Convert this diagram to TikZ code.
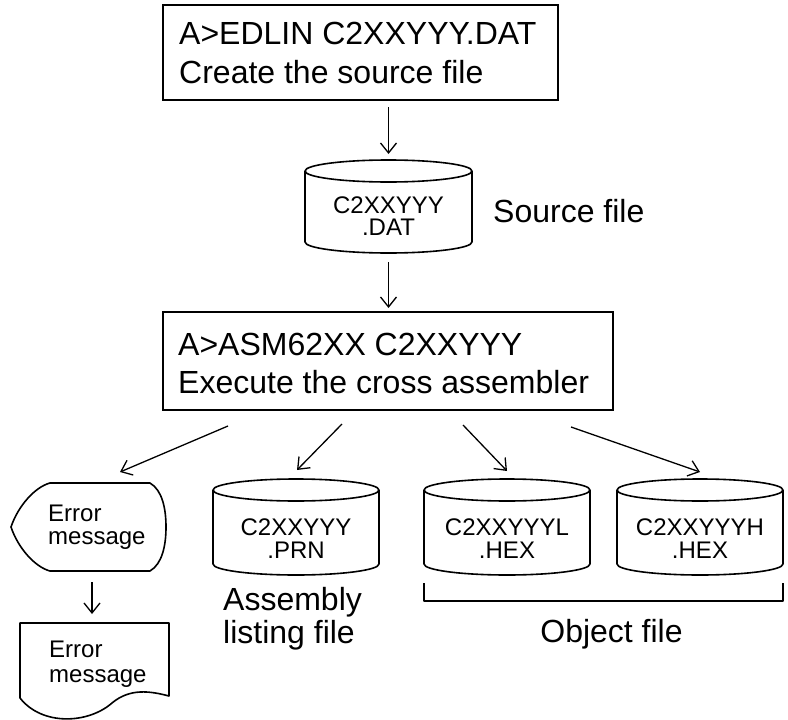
\documentclass[tikz,border=0pt]{standalone}
\usepackage{fontspec}
\setmainfont{Liberation Sans}
\usetikzlibrary{arrows.meta}

% disk drawn as a cylinder: centre x, top-ellipse y, bottom-ellipse y, half width
\newcommand{\drumshape}[4]{%
  \draw[outline] (#1-#4,#2) -- (#1-#4,#3)
    arc[start angle=180,end angle=0,x radius=#4,y radius=11] -- (#1+#4,#2);
  \draw[outline] (#1,#2) ellipse[x radius=#4,y radius=11];}

\begin{document}
\begin{tikzpicture}[x=1pt,y=-1pt,
  outline/.style={line width=1.6pt,line join=round},
  box/.style={draw,line width=1.6pt,rectangle,inner sep=0pt},
  big/.style={inner sep=0pt,font=\fontsize{32}{38}\selectfont},
  small/.style={inner sep=0pt,font=\fontsize{24}{24}\selectfont},
  flow/.style={line width=1.3pt,-{Straight Barb[length=10pt,width=16pt]}}]

\useasboundingbox (0,0) rectangle (788,720);

% editor step
\node[box,minimum width=395,minimum height=95] (edlin) at (360.5,52.5) {};
\node[big,anchor=base west] (edlinA) at (179,45) {A>EDLIN C2XXYYY.DAT};
\node[big,anchor=base west] (edlinB) at (179,83) {Create the source file};

% source file
\drumshape{388.5}{171}{242}{83.5}
\node[small,anchor=base] (datA) at (388.5,213) {C2XXYYY};
\node[small,anchor=base] (datB) at (388.5,235) {.DAT};
\node[big,anchor=base west] (srclbl) at (493,222) {Source file};
\coordinate (dattop) at (388.5,154);
\coordinate (datbot) at (388.5,262);

% assembler step
\node[box,minimum width=450,minimum height=98] (asm) at (388,361) {};
\node[big,anchor=base west] (asmA) at (178,355) {A>ASM62XX C2XXYYY};
\node[big,anchor=base west] (asmB) at (178,393) {Execute the cross assembler};

\coordinate (edlinbot) at (388.5,107);
\coordinate (asmtop) at (388.5,308);
\draw[flow] (edlinbot) -- (dattop);
\draw[flow] (datbot) -- (asmtop);

% outputs of the assembler
\coordinate (o1) at (228,426);
\coordinate (o2) at (342,424);
\coordinate (o3) at (463,425);
\coordinate (o4) at (571,427);
\coordinate (e1) at (120,472);
\coordinate (e2) at (297,470);
\coordinate (e3) at (507,471);
\coordinate (e4) at (700,472);
\draw[flow] (o1) -- (e1);
\draw[flow] (o2) -- (e2);
\draw[flow] (o3) -- (e3);
\draw[flow] (o4) -- (e4);

% error message on the display
\draw[outline] (50,483) -- (150,483)
  .. controls (162,490) and (166,508) .. (166,527)
  .. controls (166,546) and (162,564) .. (150,571)
  -- (50,571)
  .. controls (35,567) and (18,548) .. (11,527)
  .. controls (18,506) and (35,487) .. (50,483) -- cycle;
\node[small,anchor=base west] (dispA) at (48,521) {Error};
\node[small,anchor=base west] (dispB) at (48,544) {message};

\coordinate (dispbot) at (92,582);
\coordinate (doctop) at (92,614);
\draw[flow] (dispbot) -- (doctop);

% printed error message
\draw[outline] (20,623) -- (169,623) -- (169,696)
  .. controls (150,691) and (130,688) .. (112,703)
  .. controls (88,724) and (42,726) .. (20,698) -- cycle;
\node[small,anchor=base west] (docA) at (49,657) {Error};
\node[small,anchor=base west] (docB) at (49,682) {message};

% assembly listing
\drumshape{296}{490}{564}{83}
\node[small,anchor=base] (prnA) at (296,535) {C2XXYYY};
\node[small,anchor=base] (prnB) at (296,558) {.PRN};
\node[big,anchor=base west] (lstA) at (223,610) {Assembly};
\node[big,anchor=base west] (lstB) at (223,643) {listing file};

% object files
\drumshape{507}{490}{564}{83}
\node[small,anchor=base] (hexLA) at (507,535) {C2XXYYYL};
\node[small,anchor=base] (hexLB) at (507,558) {.HEX};
\drumshape{700}{490}{564}{83}
\node[small,anchor=base] (hexHA) at (700,535) {C2XXYYYH};
\node[small,anchor=base] (hexHB) at (700,558) {.HEX};

\coordinate (brL) at (424,583);
\coordinate (brR) at (783,583);
\draw[outline] (brL) -- (424,601) -- (783,601) -- (brR);
\node[big,anchor=base] (objlbl) at (611.5,642) {Object file};
\end{tikzpicture}
\end{document}
